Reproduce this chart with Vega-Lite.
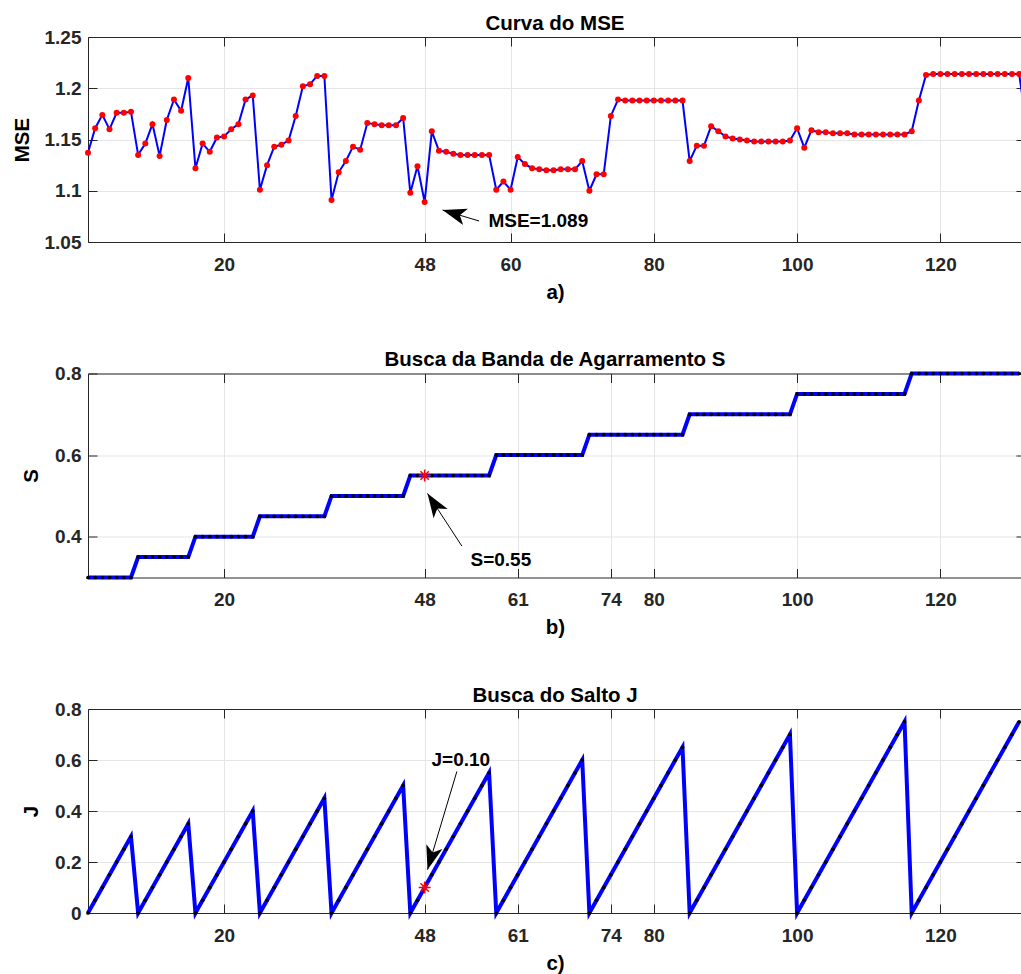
{
  "$schema": "https://vega.github.io/schema/vega-lite/v6.json",
  "background": "white",
  "padding": {"left": 12, "top": 13, "right": 0, "bottom": 0},
  "spacing": 46.5,
  "config": {
    "font": "Liberation Sans",
    "view": {"stroke": null},
    "axis": {
      "labelFont": "Liberation Sans", "labelFontSize": 19, "labelFontWeight": "bold", "labelColor": "#262626",
      "titleFont": "Liberation Sans", "titleFontSize": 20.5, "titleFontWeight": "bold", "titleColor": "#000000",
      "domainColor": "#262626", "tickColor": "#262626", "tickSize": -9, "domainWidth": 1, "tickWidth": 1,
      "gridColor": "#e5e5e5", "gridOpacity": 1, "gridWidth": 1, "labelOverlap": false
    },
    "axisX": {"labelPadding": 22, "titlePadding": 8, "labelFlush": false},
    "axisY": {"labelPadding": 16, "titlePadding": 13},
    "title": {"font": "Liberation Sans", "fontSize": 20.5, "fontWeight": "bold", "color": "#000000", "offset": -6, "frame": "group", "anchor": "middle"}
  },
  "datasets": {
    "main": [
      {"x":1,"mse":1.137,"s":0.3,"j":0},{"x":2,"mse":1.161,"s":0.3,"j":0.05},{"x":3,"mse":1.174,"s":0.3,"j":0.1},{"x":4,"mse":1.160,"s":0.3,"j":0.15},{"x":5,"mse":1.176,"s":0.3,"j":0.2},{"x":6,"mse":1.176,"s":0.3,"j":0.25},{"x":7,"mse":1.177,"s":0.3,"j":0.3},
      {"x":8,"mse":1.135,"s":0.35,"j":0},{"x":9,"mse":1.146,"s":0.35,"j":0.05},{"x":10,"mse":1.165,"s":0.35,"j":0.1},{"x":11,"mse":1.134,"s":0.35,"j":0.15},{"x":12,"mse":1.169,"s":0.35,"j":0.2},{"x":13,"mse":1.189,"s":0.35,"j":0.25},{"x":14,"mse":1.178,"s":0.35,"j":0.3},{"x":15,"mse":1.210,"s":0.35,"j":0.35},
      {"x":16,"mse":1.122,"s":0.4,"j":0},{"x":17,"mse":1.146,"s":0.4,"j":0.05},{"x":18,"mse":1.138,"s":0.4,"j":0.1},{"x":19,"mse":1.152,"s":0.4,"j":0.15},{"x":20,"mse":1.153,"s":0.4,"j":0.2},{"x":21,"mse":1.160,"s":0.4,"j":0.25},{"x":22,"mse":1.165,"s":0.4,"j":0.3},{"x":23,"mse":1.189,"s":0.4,"j":0.35},{"x":24,"mse":1.193,"s":0.4,"j":0.4},
      {"x":25,"mse":1.101,"s":0.45,"j":0},{"x":26,"mse":1.125,"s":0.45,"j":0.05},{"x":27,"mse":1.143,"s":0.45,"j":0.1},{"x":28,"mse":1.145,"s":0.45,"j":0.15},{"x":29,"mse":1.149,"s":0.45,"j":0.2},{"x":30,"mse":1.173,"s":0.45,"j":0.25},{"x":31,"mse":1.202,"s":0.45,"j":0.3},{"x":32,"mse":1.204,"s":0.45,"j":0.35},{"x":33,"mse":1.212,"s":0.45,"j":0.4},{"x":34,"mse":1.212,"s":0.45,"j":0.45},
      {"x":35,"mse":1.091,"s":0.5,"j":0},{"x":36,"mse":1.118,"s":0.5,"j":0.05},{"x":37,"mse":1.129,"s":0.5,"j":0.1},{"x":38,"mse":1.143,"s":0.5,"j":0.15},{"x":39,"mse":1.140,"s":0.5,"j":0.2},{"x":40,"mse":1.166,"s":0.5,"j":0.25},{"x":41,"mse":1.165,"s":0.5,"j":0.3},{"x":42,"mse":1.164,"s":0.5,"j":0.35},{"x":43,"mse":1.164,"s":0.5,"j":0.4},{"x":44,"mse":1.164,"s":0.5,"j":0.45},{"x":45,"mse":1.171,"s":0.5,"j":0.5},
      {"x":46,"mse":1.098,"s":0.55,"j":0},{"x":47,"mse":1.124,"s":0.55,"j":0.05},{"x":48,"mse":1.089,"s":0.55,"j":0.1},{"x":49,"mse":1.158,"s":0.55,"j":0.15},{"x":50,"mse":1.139,"s":0.55,"j":0.2},{"x":51,"mse":1.138,"s":0.55,"j":0.25},{"x":52,"mse":1.136,"s":0.55,"j":0.3},{"x":53,"mse":1.135,"s":0.55,"j":0.35},{"x":54,"mse":1.135,"s":0.55,"j":0.4},{"x":55,"mse":1.135,"s":0.55,"j":0.45},{"x":56,"mse":1.135,"s":0.55,"j":0.5},{"x":57,"mse":1.135,"s":0.55,"j":0.55},
      {"x":58,"mse":1.101,"s":0.6,"j":0},{"x":59,"mse":1.109,"s":0.6,"j":0.05},{"x":60,"mse":1.101,"s":0.6,"j":0.1},{"x":61,"mse":1.133,"s":0.6,"j":0.15},{"x":62,"mse":1.126,"s":0.6,"j":0.2},{"x":63,"mse":1.122,"s":0.6,"j":0.25},{"x":64,"mse":1.121,"s":0.6,"j":0.3},{"x":65,"mse":1.120,"s":0.6,"j":0.35},{"x":66,"mse":1.120,"s":0.6,"j":0.4},{"x":67,"mse":1.121,"s":0.6,"j":0.45},{"x":68,"mse":1.121,"s":0.6,"j":0.5},{"x":69,"mse":1.121,"s":0.6,"j":0.55},{"x":70,"mse":1.129,"s":0.6,"j":0.6},
      {"x":71,"mse":1.100,"s":0.65,"j":0},{"x":72,"mse":1.116,"s":0.65,"j":0.05},{"x":73,"mse":1.116,"s":0.65,"j":0.1},{"x":74,"mse":1.173,"s":0.65,"j":0.15},{"x":75,"mse":1.189,"s":0.65,"j":0.2},{"x":76,"mse":1.188,"s":0.65,"j":0.25},{"x":77,"mse":1.188,"s":0.65,"j":0.3},{"x":78,"mse":1.188,"s":0.65,"j":0.35},{"x":79,"mse":1.188,"s":0.65,"j":0.4},{"x":80,"mse":1.188,"s":0.65,"j":0.45},{"x":81,"mse":1.188,"s":0.65,"j":0.5},{"x":82,"mse":1.188,"s":0.65,"j":0.55},{"x":83,"mse":1.188,"s":0.65,"j":0.6},{"x":84,"mse":1.188,"s":0.65,"j":0.65},
      {"x":85,"mse":1.129,"s":0.7,"j":0},{"x":86,"mse":1.144,"s":0.7,"j":0.05},{"x":87,"mse":1.144,"s":0.7,"j":0.1},{"x":88,"mse":1.163,"s":0.7,"j":0.15},{"x":89,"mse":1.158,"s":0.7,"j":0.2},{"x":90,"mse":1.153,"s":0.7,"j":0.25},{"x":91,"mse":1.151,"s":0.7,"j":0.3},{"x":92,"mse":1.150,"s":0.7,"j":0.35},{"x":93,"mse":1.149,"s":0.7,"j":0.4},{"x":94,"mse":1.148,"s":0.7,"j":0.45},{"x":95,"mse":1.148,"s":0.7,"j":0.5},{"x":96,"mse":1.148,"s":0.7,"j":0.55},{"x":97,"mse":1.148,"s":0.7,"j":0.6},{"x":98,"mse":1.148,"s":0.7,"j":0.65},{"x":99,"mse":1.149,"s":0.7,"j":0.7},
      {"x":100,"mse":1.161,"s":0.75,"j":0},{"x":101,"mse":1.142,"s":0.75,"j":0.05},{"x":102,"mse":1.159,"s":0.75,"j":0.1},{"x":103,"mse":1.157,"s":0.75,"j":0.15},{"x":104,"mse":1.157,"s":0.75,"j":0.2},{"x":105,"mse":1.156,"s":0.75,"j":0.25},{"x":106,"mse":1.156,"s":0.75,"j":0.3},{"x":107,"mse":1.156,"s":0.75,"j":0.35},{"x":108,"mse":1.155,"s":0.75,"j":0.4},{"x":109,"mse":1.155,"s":0.75,"j":0.45},{"x":110,"mse":1.155,"s":0.75,"j":0.5},{"x":111,"mse":1.155,"s":0.75,"j":0.55},{"x":112,"mse":1.155,"s":0.75,"j":0.6},{"x":113,"mse":1.155,"s":0.75,"j":0.65},{"x":114,"mse":1.155,"s":0.75,"j":0.7},{"x":115,"mse":1.155,"s":0.75,"j":0.75},
      {"x":116,"mse":1.158,"s":0.8,"j":0},{"x":117,"mse":1.188,"s":0.8,"j":0.05},{"x":118,"mse":1.213,"s":0.8,"j":0.1},{"x":119,"mse":1.214,"s":0.8,"j":0.15},{"x":120,"mse":1.214,"s":0.8,"j":0.2},{"x":121,"mse":1.214,"s":0.8,"j":0.25},{"x":122,"mse":1.214,"s":0.8,"j":0.3},{"x":123,"mse":1.214,"s":0.8,"j":0.35},{"x":124,"mse":1.214,"s":0.8,"j":0.4},{"x":125,"mse":1.214,"s":0.8,"j":0.45},{"x":126,"mse":1.214,"s":0.8,"j":0.5},{"x":127,"mse":1.214,"s":0.8,"j":0.55},{"x":128,"mse":1.214,"s":0.8,"j":0.6},{"x":129,"mse":1.214,"s":0.8,"j":0.65},{"x":130,"mse":1.214,"s":0.8,"j":0.7},{"x":131,"mse":1.214,"s":0.8,"j":0.75},{"x":132,"mse":1.165,"s":0.8,"j":0.8}
    ],
    "ann": [
      {"panel":"a","x":55.6,"y":1.0705,"x2":50.5,"y2":1.0812,"tx":56.9,"ty":1.0705,"label":"MSE=1.089"},
      {"panel":"b","x":53.2,"y":0.377,"x2":48.4,"y2":0.506,"tx":58.64,"ty":0.342,"label":"S=0.55"},
      {"panel":"c","x":52.5,"y":0.555,"x2":48.4,"y2":0.17,"tx":53.05,"ty":0.601,"label":"J=0.10"}
    ],
    "best": [
      {"panel":"b","x":48,"y":0.55},
      {"panel":"c","x":48,"y":0.1}
    ]
  },
  "vconcat": [
    {
      "width": 934, "height": 205,
      "title": {"text": "Curva do MSE"},
      "resolve": {"axis": {"x": "independent", "y": "independent"}},
      "layer": [
        {"data": {"name": "main"},
         "mark": {"type": "line", "color": "#0000ff", "strokeWidth": 2, "clip": true},
         "encoding": {
           "x": {"field": "x", "type": "quantitative", "scale": {"domain": [1, 131.4], "nice": false, "zero": false},
                 "axis": {"orient": "bottom", "values": [20,48,60,80,100,120], "title": "a)", "grid": true}},
           "y": {"field": "mse", "type": "quantitative", "scale": {"domain": [1.05, 1.25], "nice": false, "zero": false},
                 "axis": {"orient": "left", "values": [1.05,1.1,1.15,1.2,1.25], "format": ".2~f", "title": "MSE", "grid": true, "titlePadding": 12}}
         }},
        {"data": {"name": "main"}, "transform": [{"filter": "datum.x <= 131"}],
         "mark": {"type": "point", "shape": "circle", "filled": true, "color": "#ff0000", "size": 36, "opacity": 1},
         "encoding": {
           "x": {"field": "x", "type": "quantitative", "axis": {"orient": "top", "values": [20,48,60,80,100,120], "labels": false, "grid": false, "title": null}},
           "y": {"field": "mse", "type": "quantitative", "axis": {"orient": "right", "values": [1.05,1.1,1.15,1.2,1.25], "labels": false, "grid": false, "title": null, "domain": false, "tickSize": -6}}
         }},
        {"data": {"name": "ann"}, "transform": [{"filter": "datum.panel == 'a'"}],
         "mark": {"type": "rule", "color": "#000000", "strokeWidth": 1},
         "encoding": {"x": {"field": "x", "type": "quantitative", "axis": null}, "y": {"field": "y", "type": "quantitative", "axis": null}, "x2": {"field": "x2"}, "y2": {"field": "y2"}}},
        {"data": {"name": "ann"}, "transform": [{"filter": "datum.panel == 'a'"}],
         "mark": {"type": "point", "shape": "M0,0L0.7,2L0,1.5L-0.7,2Z", "filled": true, "color": "#000000", "size": 576, "angle": 286.7, "opacity": 1},
         "encoding": {"x": {"field": "x2", "type": "quantitative", "axis": null}, "y": {"field": "y2", "type": "quantitative", "axis": null}}},
        {"data": {"name": "ann"}, "transform": [{"filter": "datum.panel == 'a'"}],
         "mark": {"type": "text", "align": "left", "baseline": "middle", "fontSize": 19, "fontWeight": "bold", "font": "Liberation Sans", "color": "#000000"},
         "encoding": {"x": {"field": "tx", "type": "quantitative", "axis": null}, "y": {"field": "ty", "type": "quantitative", "axis": null}, "text": {"field": "label"}}}
      ]
    },
    {
      "width": 934, "height": 204,
      "title": {"text": "Busca da Banda de Agarramento S"},
      "resolve": {"axis": {"x": "independent", "y": "independent"}},
      "layer": [
        {"data": {"name": "main"}, "transform": [{"filter": "datum.x <= 131"}],
         "mark": {"type": "line", "color": "#0000ff", "strokeWidth": 4},
         "encoding": {
           "x": {"field": "x", "type": "quantitative", "scale": {"domain": [1, 131.4], "nice": false, "zero": false},
                 "axis": {"orient": "bottom", "values": [20,48,61,74,80,100,120], "title": "b)", "grid": true}},
           "y": {"field": "s", "type": "quantitative", "scale": {"domain": [0.3, 0.8], "nice": false, "zero": false},
                 "axis": {"orient": "left", "values": [0.4,0.6,0.8], "format": ".1f", "title": "S", "grid": true, "titlePadding": 13}}
         }},
        {"data": {"name": "main"}, "transform": [{"filter": "datum.x <= 131"}],
         "mark": {"type": "point", "shape": "circle", "filled": true, "color": "#000000", "size": 14, "opacity": 1},
         "encoding": {
           "x": {"field": "x", "type": "quantitative", "axis": {"orient": "top", "values": [20,48,61,74,80,100,120], "labels": false, "grid": false, "title": null}},
           "y": {"field": "s", "type": "quantitative", "axis": {"orient": "right", "values": [0.4,0.6,0.8], "labels": false, "grid": false, "title": null, "domain": false, "tickSize": -6}}
         }},
        {"data": {"name": "best"}, "transform": [{"filter": "datum.panel == 'b'"}],
         "mark": {"type": "point", "shape": "M0,-1L0,1M-1,0L1,0M-0.7,-0.7L0.7,0.7M-0.7,0.7L0.7,-0.7", "filled": false, "color": "#ff0000", "strokeWidth": 1.5, "size": 144, "opacity": 1},
         "encoding": {"x": {"field": "x", "type": "quantitative", "axis": null}, "y": {"field": "y", "type": "quantitative", "axis": null}}},
        {"data": {"name": "ann"}, "transform": [{"filter": "datum.panel == 'b'"}],
         "mark": {"type": "rule", "color": "#000000", "strokeWidth": 1},
         "encoding": {"x": {"field": "x", "type": "quantitative", "axis": null}, "y": {"field": "y", "type": "quantitative", "axis": null}, "x2": {"field": "x2"}, "y2": {"field": "y2"}}},
        {"data": {"name": "ann"}, "transform": [{"filter": "datum.panel == 'b'"}],
         "mark": {"type": "point", "shape": "M0,0L0.7,2L0,1.5L-0.7,2Z", "filled": true, "color": "#000000", "size": 576, "angle": 326.9, "opacity": 1},
         "encoding": {"x": {"field": "x2", "type": "quantitative", "axis": null}, "y": {"field": "y2", "type": "quantitative", "axis": null}}},
        {"data": {"name": "ann"}, "transform": [{"filter": "datum.panel == 'b'"}],
         "mark": {"type": "text", "align": "center", "baseline": "middle", "fontSize": 19, "fontWeight": "bold", "font": "Liberation Sans", "color": "#000000"},
         "encoding": {"x": {"field": "tx", "type": "quantitative", "axis": null}, "y": {"field": "ty", "type": "quantitative", "axis": null}, "text": {"field": "label"}}}
      ]
    },
    {
      "width": 934, "height": 204,
      "title": {"text": "Busca do Salto J"},
      "resolve": {"axis": {"x": "independent", "y": "independent"}},
      "layer": [
        {"data": {"name": "main"}, "transform": [{"filter": "datum.x <= 131"}],
         "mark": {"type": "line", "color": "#0000ff", "strokeWidth": 4},
         "encoding": {
           "x": {"field": "x", "type": "quantitative", "scale": {"domain": [1, 131.4], "nice": false, "zero": false},
                 "axis": {"orient": "bottom", "values": [20,48,61,74,80,100,120], "title": "c)", "grid": true}},
           "y": {"field": "j", "type": "quantitative", "scale": {"domain": [0, 0.8], "nice": false, "zero": false},
                 "axis": {"orient": "left", "values": [0,0.2,0.4,0.6,0.8], "format": ".1~f", "title": "J", "grid": true, "titlePadding": 13}}
         }},
        {"data": {"name": "main"}, "transform": [{"filter": "datum.x <= 131"}],
         "mark": {"type": "point", "shape": "circle", "filled": true, "color": "#000000", "size": 14, "opacity": 1},
         "encoding": {
           "x": {"field": "x", "type": "quantitative", "axis": {"orient": "top", "values": [20,48,61,74,80,100,120], "labels": false, "grid": false, "title": null}},
           "y": {"field": "j", "type": "quantitative", "axis": {"orient": "right", "values": [0,0.2,0.4,0.6,0.8], "labels": false, "grid": false, "title": null, "domain": false, "tickSize": -6}}
         }},
        {"data": {"name": "best"}, "transform": [{"filter": "datum.panel == 'c'"}],
         "mark": {"type": "point", "shape": "M0,-1L0,1M-1,0L1,0M-0.7,-0.7L0.7,0.7M-0.7,0.7L0.7,-0.7", "filled": false, "color": "#ff0000", "strokeWidth": 1.5, "size": 144, "opacity": 1},
         "encoding": {"x": {"field": "x", "type": "quantitative", "axis": null}, "y": {"field": "y", "type": "quantitative", "axis": null}}},
        {"data": {"name": "ann"}, "transform": [{"filter": "datum.panel == 'c'"}],
         "mark": {"type": "rule", "color": "#000000", "strokeWidth": 1},
         "encoding": {"x": {"field": "x", "type": "quantitative", "axis": null}, "y": {"field": "y", "type": "quantitative", "axis": null}, "x2": {"field": "x2"}, "y2": {"field": "y2"}}},
        {"data": {"name": "ann"}, "transform": [{"filter": "datum.panel == 'c'"}],
         "mark": {"type": "point", "shape": "M0,0L0.7,2L0,1.5L-0.7,2Z", "filled": true, "color": "#000000", "size": 576, "angle": 196.6, "opacity": 1},
         "encoding": {"x": {"field": "x2", "type": "quantitative", "axis": null}, "y": {"field": "y2", "type": "quantitative", "axis": null}}},
        {"data": {"name": "ann"}, "transform": [{"filter": "datum.panel == 'c'"}],
         "mark": {"type": "text", "align": "center", "baseline": "middle", "fontSize": 19, "fontWeight": "bold", "font": "Liberation Sans", "color": "#000000"},
         "encoding": {"x": {"field": "tx", "type": "quantitative", "axis": null}, "y": {"field": "ty", "type": "quantitative", "axis": null}, "text": {"field": "label"}}}
      ]
    }
  ]
}
